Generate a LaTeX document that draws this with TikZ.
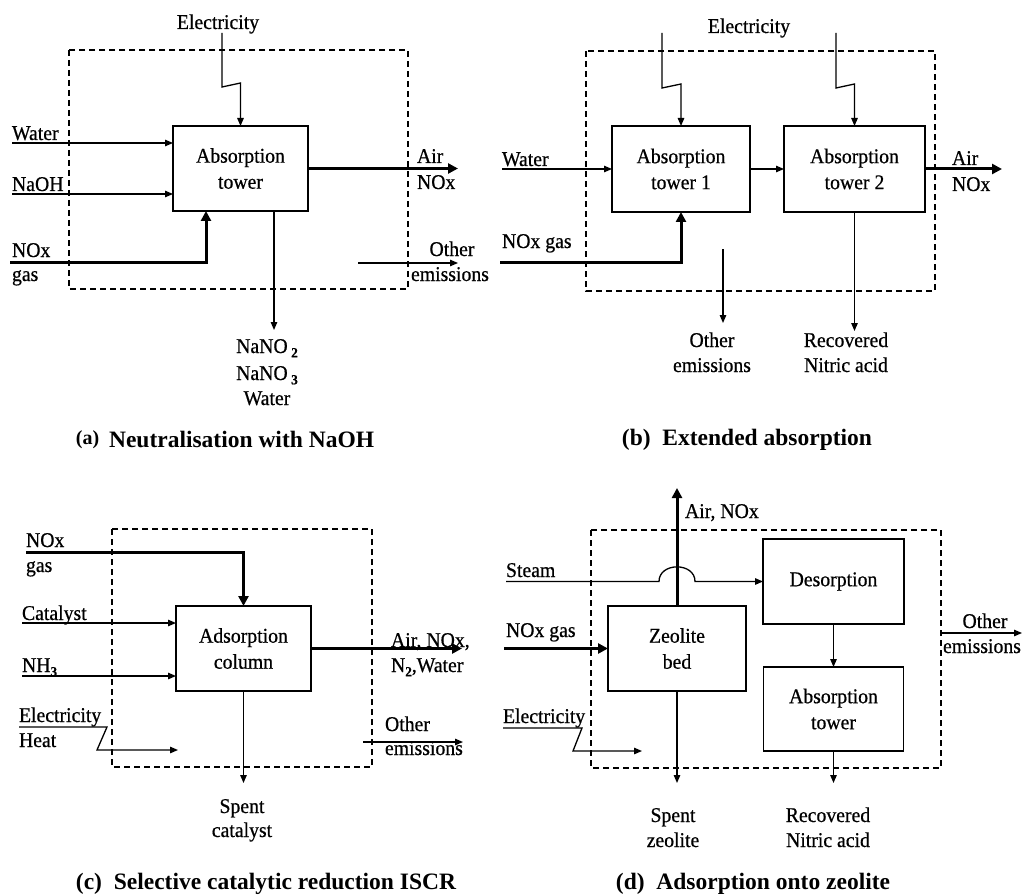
\documentclass[tikz,border=0pt]{standalone}
\usepackage{fontspec}
\setmainfont{Liberation Serif}[FakeStretch=0.94,FakeBold=0.6]
\newfontfamily\capfont{Liberation Serif}
\usetikzlibrary{arrows.meta}
\newcommand{\sbs}[1]{\raisebox{-0.45ex}{\fontsize{14}{14}\selectfont\bfseries #1}}
\begin{document}
\begin{tikzpicture}[x=1pt,y=-1pt,
  lbl/.style={font=\fontsize{21}{26}\selectfont, inner sep=0pt, outer sep=0pt},
  captxt/.style={font=\capfont\fontsize{23.5}{28}\selectfont\bfseries, inner sep=0pt, anchor=base},
  proc/.style={draw, line width=1.6pt, inner sep=0pt, outer sep=0pt, align=center, font=\fontsize{21}{26}\selectfont},
  flow/.style={line width=1.3pt, -{Triangle[length=8pt,width=6.5pt]}},
  heavy/.style={line width=3pt, -{Triangle[length=10pt,width=10pt]}},
  boundary/.style={dash pattern=on 6pt off 4pt, line width=1.2pt}]
\useasboundingbox (0,0) rectangle (1025,896);

% ---------------- (a) ----------------
\draw[boundary] (69,50) rectangle (408,289);
\node[proc, minimum width=135pt, minimum height=85pt] (A) at (240.5,168.5) {Absorption\\tower};
\node[lbl, anchor=base] (a-ell) at (218,29) {Electricity};
\coordinate (a-el) at (222,33);
\draw[flow] (a-el) -- (222,87) -- (240.5,83) -- (A.north);
\node[lbl, anchor=base west] (a-wl) at (12,140) {Water};
\coordinate (a-w) at (12,143);
\draw[flow] (a-w) -- (a-w -| A.west);
\node[lbl, anchor=base west] (a-nl) at (12,191) {NaOH};
\coordinate (a-n) at (12,194);
\draw[flow] (a-n) -- (a-n -| A.west);
\node[lbl, anchor=base west] (a-gl1) at (12,257) {NOx};
\node[lbl, anchor=base west] (a-gl2) at (12,281) {gas};
\coordinate (a-g) at (10,262);
\draw[heavy] (a-g) -| ([xshift=-34.5pt]A.south);
\coordinate (a-air) at (458,168.5);
\draw[heavy] (A.east) -- (a-air);
\node[lbl, anchor=base west] (a-al1) at (417,163) {Air};
\node[lbl, anchor=base west] (a-al2) at (417,189) {NOx};
\coordinate (a-o1) at (358,263);
\coordinate (a-o2) at (458,263);
\draw[flow] (a-o1) -- (a-o2);
\node[lbl, anchor=base] (a-ol1) at (452,256) {Other};
\node[lbl, anchor=base] (a-ol2) at (450,281) {emissions};
\coordinate (a-dn) at (274,330);
\draw[flow] ([xshift=33.5pt]A.south) -- (a-dn);
\node[lbl, anchor=base] (a-p1) at (267,353) {NaNO\,\sbs{2}};
\node[lbl, anchor=base] (a-p2) at (267,380) {NaNO\,\sbs{3}};
\node[lbl, anchor=base] (a-p3) at (267,405) {Water};
\node[captxt] (a-cap) at (225,447) {\raisebox{3pt}{\fontsize{20}{20}\selectfont(a)}\, Neutralisation with NaOH};

% ---------------- (b) ----------------
\draw[boundary] (586,51) rectangle (935,291);
\node[proc, minimum width=138pt, minimum height=86pt] (T1) at (681,169) {Absorption\\tower 1};
\node[proc, minimum width=141pt, minimum height=86pt] (T2) at (854.5,169) {Absorption\\tower 2};
\node[lbl, anchor=base] (b-ell) at (749,33) {Electricity};
\coordinate (b-e1) at (662,33);
\coordinate (b-e2) at (836,33);
\draw[flow] (b-e1) -- (662,88) -- (681,84) -- (T1.north);
\draw[flow] (b-e2) -- (836,88) -- (854.5,84) -- (T2.north);
\node[lbl, anchor=base west] (b-wl) at (502,166) {Water};
\coordinate (b-w) at (502,169);
\draw[flow] (b-w) -- (T1.west);
\draw[flow] (T1.east) -- (T2.west);
\node[lbl, anchor=base west] (b-gl) at (502,248) {NOx gas};
\coordinate (b-g) at (500,262);
\draw[heavy] (b-g) -| (T1.south);
\coordinate (b-air) at (1002,169);
\draw[heavy] (T2.east) -- (b-air);
\node[lbl, anchor=base west] (b-al1) at (952,165) {Air};
\node[lbl, anchor=base west] (b-al2) at (952,191) {NOx};
\coordinate (b-o1) at (723,249);
\coordinate (b-o2) at (723,323);
\draw[flow] (b-o1) -- (b-o2);
\node[lbl, anchor=base] (b-ol1) at (712,347) {Other};
\node[lbl, anchor=base] (b-ol2) at (712,372) {emissions};
\coordinate (b-dn) at (854.5,331);
\draw[flow] (T2.south) -- (b-dn);
\node[lbl, anchor=base] (b-rl1) at (846,347) {Recovered};
\node[lbl, anchor=base] (b-rl2) at (846,372) {Nitric acid};
\node[captxt] (b-cap) at (747,445) {(b)\ \ Extended absorption};

% ---------------- (c) ----------------
\draw[boundary] (112,529) rectangle (372,767);
\node[proc, minimum width=135pt, minimum height=85pt] (C) at (243.5,648.5) {Adsorption\\column};
\node[lbl, anchor=base west] (c-gl1) at (26,547) {NOx};
\node[lbl, anchor=base west] (c-gl2) at (26,572) {gas};
\coordinate (c-g) at (26,552);
\draw[heavy] (c-g) -| (C.north);
\node[lbl, anchor=base west] (c-cl) at (22,620) {Catalyst};
\coordinate (c-c) at (22,623);
\draw[flow] (c-c) -- (c-c -| C.west);
\node[lbl, anchor=base west] (c-nl) at (22,672) {NH\sbs{3}};
\coordinate (c-n) at (22,676);
\draw[flow] (c-n) -- (c-n -| C.west);
\node[lbl, anchor=base west] (c-el1) at (19,722) {Electricity};
\node[lbl, anchor=base west] (c-el2) at (19,747) {Heat};
\coordinate (c-e) at (19,727);
\coordinate (c-ee) at (178,750);
\draw[flow] (c-e) -- (107,727) -- (97,750) -- (c-ee);
\coordinate (c-air) at (462,648.5);
\draw[heavy] (C.east) -- (c-air);
\node[lbl, anchor=base west] (c-al1) at (391,647) {Air, NOx,};
\node[lbl, anchor=base west] (c-al2) at (391,672) {N\sbs{2},Water};
\coordinate (c-o1) at (363,742);
\coordinate (c-o2) at (463,742);
\draw[flow] (c-o1) -- (c-o2);
\node[lbl, anchor=base west] (c-ol1) at (385,731) {Other};
\node[lbl, anchor=base west] (c-ol2) at (385,755) {emissions};
\coordinate (c-dn) at (243.5,783);
\draw[flow] (C.south) -- (c-dn);
\node[lbl, anchor=base] (c-sl1) at (242,813) {Spent};
\node[lbl, anchor=base] (c-sl2) at (242,837) {catalyst};
\node[captxt] (c-cap) at (266,889) {(c)\ \ Selective catalytic reduction ISCR};

% ---------------- (d) ----------------
\draw[boundary] (591,530) rectangle (941,768);
\node[proc, minimum width=138pt, minimum height=85pt] (Z) at (677,648.5) {Zeolite\\bed};
\node[proc, minimum width=141pt, minimum height=85pt] (D) at (833.5,581.5) {Desorption};
\node[proc, minimum width=140pt, minimum height=84pt] (Ab) at (833.5,709) {Absorption\\tower};
\coordinate (d-air) at (677,488);
\draw[heavy] (Z.north) -- (d-air);
\node[lbl, anchor=base west] (d-al) at (685,518) {Air, NOx};
\node[lbl, anchor=base west] (d-sl) at (506,577) {Steam};
\coordinate (d-s) at (506,581.5);
\draw[flow] (d-s) -- (659,581.5) .. controls (659,562) and (695,562) .. (695,581.5) -- (D.west);
\node[lbl, anchor=base west] (d-gl) at (506,637) {NOx gas};
\coordinate (d-g) at (504,648.5);
\draw[heavy] (d-g) -- (Z.west);
\draw[flow] (D.south) -- (Ab.north);
\coordinate (d-o1) at (941,633);
\coordinate (d-o2) at (1022,633);
\draw[flow] (d-o1) -- (d-o2);
\node[lbl, anchor=base] (d-ol1) at (985,628) {Other};
\node[lbl, anchor=base] (d-ol2) at (982,653) {emissions};
\node[lbl, anchor=base west] (d-el) at (503,723) {Electricity};
\coordinate (d-e) at (503,728);
\coordinate (d-ee) at (642,751);
\draw[flow] (d-e) -- (582,728) -- (573,751) -- (d-ee);
\coordinate (d-dn1) at (677,783);
\draw[flow] (Z.south) -- (d-dn1);
\coordinate (d-dn2) at (833.5,783);
\draw[flow] (Ab.south) -- (d-dn2);
\node[lbl, anchor=base] (d-sp1) at (673,822) {Spent};
\node[lbl, anchor=base] (d-sp2) at (673,847) {zeolite};
\node[lbl, anchor=base] (d-rl1) at (828,822) {Recovered};
\node[lbl, anchor=base] (d-rl2) at (828,847) {Nitric acid};
\node[captxt] (d-cap) at (753,889) {(d)\ \ Adsorption onto zeolite};
\end{tikzpicture}
\end{document}
